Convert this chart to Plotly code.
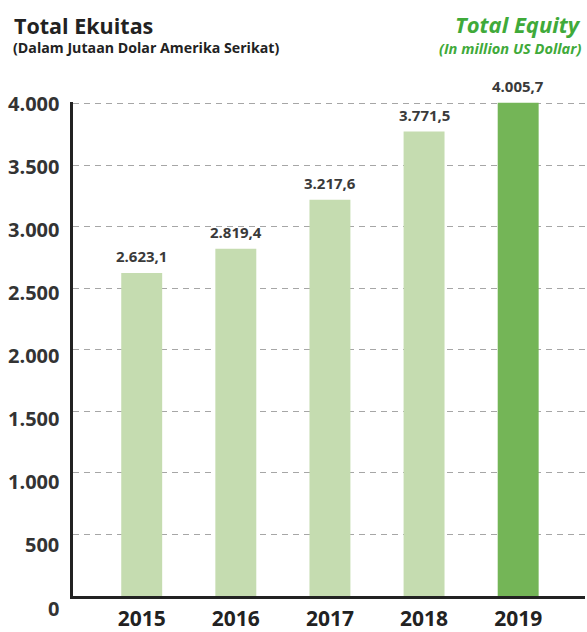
import plotly.graph_objects as go

# Total equity, million USD
years = ["2015", "2016", "2017", "2018", "2019"]
equity = [2623.1, 2819.4, 3217.6, 3771.5, 4005.7]
value_labels = ["2.623,1", "2.819,4", "3.217,6", "3.771,5", "4.005,7"]
tick_values = [0, 500, 1000, 1500, 2000, 2500, 3000, 3500, 4000]
tick_labels = ["0", "500", "1.000", "1.500", "2.000", "2.500", "3.000", "3.500", "4.000"]

LIGHT = "#c5dcb0"
DARK = "#74b557"
GREEN_TEXT = "#3faa3a"
FONT = "Open Sans"

W, H = 587, 632
Y_MAX = 4012
# keep the 4.000 gridline at the same height while leaving headroom for the last bar
ML, MR, MB = 73, 2, 36
MT = 103 - (Y_MAX - 4000) * (H - 103 - MB) / 4000

colors = [DARK if y == years[-1] else LIGHT for y in years]

fig = go.Figure(
    go.Bar(
        x=years,
        y=equity,
        marker=dict(color=colors, line=dict(width=0)),
        width=0.435,
        hoverinfo="skip",
    )
)

annotations = []
# value labels above each bar (x given as category index)
for i, (v, lab) in enumerate(zip(equity, value_labels)):
    annotations.append(dict(
        x=i, y=v, xref="x", yref="y", text=lab, showarrow=False,
        yanchor="bottom", yshift=5,
        font=dict(family=FONT, size=15, color="#3a3a3a", weight="bold"),
    ))

# y tick labels, drifting slightly lower toward the baseline
for v, lab in zip(tick_values, tick_labels):
    annotations.append(dict(
        x=0, xref="paper", xanchor="right", xshift=-12,
        y=v, yref="y", yanchor="middle",
        yshift=-(4000 - v) / 4000 * 12,
        text=lab, showarrow=False,
        font=dict(family=FONT, size=20, color="#333333", weight="bold"),
    ))

# headings, positioned in page pixels
plot_w = W - ML - MR
plot_h = H - MT - MB
headings = [
    ("Total Ekuitas", 12, 24.5, "left", 21.5, "#222222", "normal"),
    ("(Dalam Jutaan Dolar Amerika Serikat)", 11, 46.5, "left", 14.2, "#222222", "normal"),
    ("Total Equity", 583, 23.5, "right", 22, GREEN_TEXT, "italic"),
    ("(In million US Dollar)", 583, 47.5, "right", 14.6, GREEN_TEXT, "italic"),
]
for text, px, py, anchor, size, col, style in headings:
    annotations.append(dict(
        x=(px - ML) / plot_w, y=(H - MB - py) / plot_h,
        xref="paper", yref="paper",
        xanchor=anchor, yanchor="middle", text=text, showarrow=False,
        font=dict(family=FONT, size=size, color=col, weight="bold", style=style),
    ))

fig.update_layout(
    width=W, height=H,
    margin=dict(l=ML, r=MR, t=MT, b=MB, autoexpand=False),
    paper_bgcolor="white", plot_bgcolor="white",
    showlegend=False,
    xaxis=dict(
        type="category", range=[-0.73, 4.71],
        showline=True, linecolor="#222222", linewidth=2.5,
        ticks="", showgrid=False, zeroline=False,
        tickfont=dict(family=FONT, size=21, color="#222222", weight="bold"),
        ticklabelstandoff=2,
    ),
    yaxis=dict(
        range=[0, Y_MAX], tickvals=tick_values, showticklabels=False,
        showline=True, linecolor="#222222", linewidth=2.5,
        showgrid=True, gridcolor="#a6a6a6", gridwidth=1, griddash="6px,5px",
        zeroline=False, ticks="",
    ),
    annotations=annotations,
)

fig.write_html("out.html")
